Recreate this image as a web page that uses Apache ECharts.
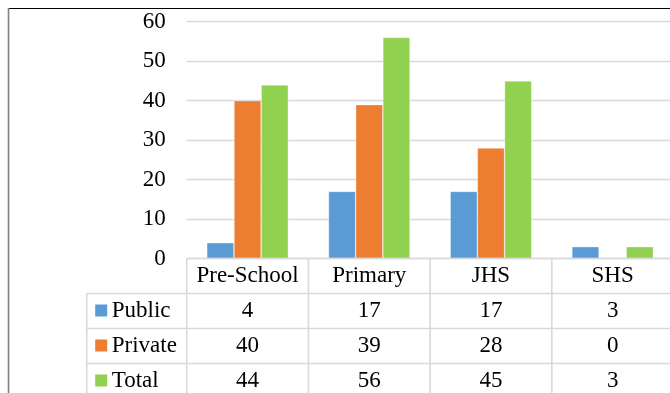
<!DOCTYPE html>
<html>
<head>
<meta charset="utf-8">
<script src="https://cdn.jsdelivr.net/npm/echarts@6/dist/echarts.min.js"></script>
<style>
  html, body { margin: 0; padding: 0; background: #ffffff; }
  #chart { width: 670px; height: 393px; }
</style>
</head>
<body>
<div id="chart"></div>
<script>
// School levels and enrolment counts per ownership type
const categories = ['Pre-School', 'Primary', 'JHS', 'SHS'];
const seriesNames = ['Public', 'Private', 'Total'];
const publicValues = [4, 17, 17, 3];
const privateValues = [40, 39, 28, 0];
const totalValues = [44, 56, 45, 3];
const yMin = 0;
const yMax = 60;
const yStep = 10;

const seriesValues = [publicValues, privateValues, totalValues];
const colors = ['#5b9bd5', '#ed7d31', '#92d050'];
const FONT = 'Liberation Serif';
const FONT_SIZE = 23;
const TABLE_LINE = '#d9d9d9';
const ROW_H = 35;

const chart = echarts.init(document.getElementById('chart'), null, { renderer: 'canvas' });

chart.setOption({
  animation: false,
  backgroundColor: '#ffffff',
  textStyle: { fontFamily: FONT },
  grid: {
    left: 186.7,
    top: 21.7,
    width: 486.8,
    height: 236.8,
    containLabel: false,
    outerBoundsMode: 'none'
  },
  xAxis: {
    type: 'category',
    data: categories,
    axisLine: { show: false },
    axisTick: { show: false },
    splitLine: { show: false },
    axisLabel: {
      show: true,
      interval: 0,
      margin: 17,
      verticalAlign: 'middle',
      color: '#000000',
      fontFamily: FONT,
      fontSize: FONT_SIZE
    }
  },
  yAxis: {
    type: 'value',
    min: yMin,
    max: yMax,
    interval: yStep,
    axisLine: { show: false },
    axisTick: { show: false },
    axisLabel: {
      margin: 21,
      color: '#000000',
      fontFamily: FONT,
      fontSize: FONT_SIZE
    },
    splitLine: { lineStyle: { color: '#d9d9d9', width: 1.4 } }
  },
  series: seriesNames.map((name, i) => ({
    name: name,
    type: 'bar',
    data: seriesValues[i],
    barGap: '0%',
    barCategoryGap: '33%',
    itemStyle: { color: colors[i], borderColor: 'rgba(255,255,255,0.6)', borderWidth: 0.6 }
  }))
});

// Data table beneath the plot, aligned to the category axis
function buildTable() {
  const centers = categories.map(c => chart.convertToPixel({ xAxisIndex: 0 }, c));
  const band = centers[1] - centers[0];
  const bounds = centers.map(c => c - band / 2).concat([centers[centers.length - 1] + band / 2]);
  const y0 = chart.convertToPixel({ yAxisIndex: 0 }, yMin);
  const legendLeft = bounds[0] - 100;
  const bottom = 420;
  const right = 700;
  const els = [];

  const line = (x1, y1, x2, y2, color, width) => ({
    type: 'line',
    silent: true,
    z: 50,
    shape: { x1, y1, x2, y2 },
    style: { stroke: color, lineWidth: width }
  });

  // outer frame
  els.push(line(8, 8.5, 672, 8.5, '#000000', 1.2));
  els.push(line(8.5, 8, 8.5, 400, '#808080', 1.6));

  // horizontal rules
  els.push(line(bounds[0], y0, right, y0, TABLE_LINE, 1.6));
  for (let r = 1; r <= seriesNames.length; r++) {
    const y = y0 + ROW_H * r;
    els.push(line(legendLeft, y, right, y, TABLE_LINE, 1.6));
  }
  // vertical rules
  els.push(line(legendLeft, y0 + ROW_H, legendLeft, bottom, TABLE_LINE, 1.6));
  bounds.forEach(x => els.push(line(x, y0, x, bottom, TABLE_LINE, 1.6)));

  // rows: legend key, series name, values
  seriesNames.forEach((name, r) => {
    const cy = y0 + ROW_H * (r + 1) + ROW_H / 2;
    els.push({
      type: 'rect', silent: true, z: 60,
      shape: { x: legendLeft + 8.5, y: cy - 6.5, width: 12, height: 12 },
      style: { fill: colors[r] }
    });
    els.push({
      type: 'text', silent: true, z: 60,
      x: legendLeft + 25, y: cy,
      style: {
        text: name, fill: '#000000', fontFamily: FONT, fontSize: FONT_SIZE,
        align: 'left', verticalAlign: 'middle'
      }
    });
    seriesValues[r].forEach((v, i) => {
      els.push({
        type: 'text', silent: true, z: 60,
        x: centers[i], y: cy,
        style: {
          text: String(v), fill: '#000000', fontFamily: FONT, fontSize: FONT_SIZE,
          align: 'center', verticalAlign: 'middle'
        }
      });
    });
  });

  chart.setOption({ graphic: { elements: els } });
}

buildTable();
</script>
</body>
</html>
